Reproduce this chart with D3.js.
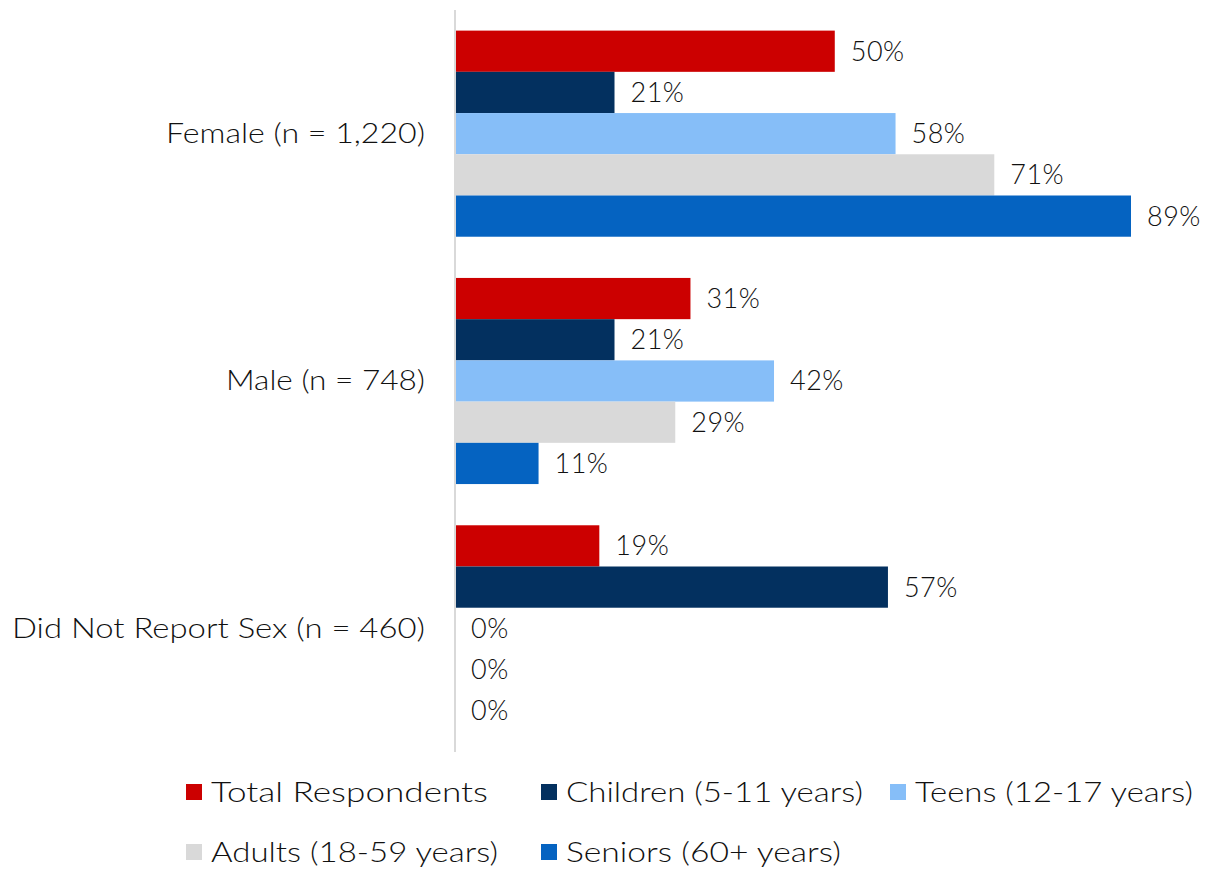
<!DOCTYPE html>
<html>
<head>
<meta charset="utf-8">
<script src="https://cdn.jsdelivr.net/npm/d3@7"></script>
<style>
  html, body { margin: 0; padding: 0; background: #ffffff; }
  text { font-family: "Lato", "Open Sans", sans-serif; fill: #111111; font-weight: 300; }
</style>
</head>
<body>
<svg id="chart" width="1217" height="869"></svg>
<script>
// Respondent groups (rows) and the age series drawn within each row
const categories = ["Female (n = 1,220)", "Male (n = 748)", "Did Not Report Sex (n = 460)"];
const seriesNames = ["Total Respondents", "Children (5-11 years)", "Teens (12-17 years)", "Adults (18-59 years)", "Seniors (60+ years)"];
const seriesColors = ["#CC0000", "#03305F", "#86BEF8", "#D9D9D9", "#0563C1"];

// Percent values per series, in category order
const totalRespondents = [50, 31, 19];
const children = [21, 21, 57];
const teens = [58, 42, 0];
const adults = [71, 29, 0];
const seniors = [89, 11, 0];
const seriesValues = [totalRespondents, children, teens, adults, seniors];

// Pixel widths of the label strings, used to fit the text runs
const categoryLabelWidths = [259, 199, 413];
const legendLabelWidths = [277, 297, 278, 287, 275];

const svg = d3.select("#chart");
const x0 = 455;

const x = d3.scaleLinear().domain([0, 89]).range([x0, 1131]);
const y = d3.scaleBand().domain(categories).range([10, 752]).padding(0);
const bw = y.bandwidth();
const ySeries = d3.scaleBand().domain(seriesNames).range([bw / 12, bw * 11 / 12]).padding(0);

const rows = categories.map((c, ci) => ({
  cat: c,
  bars: seriesNames.map((s, si) => ({ series: s, value: seriesValues[si][ci], color: seriesColors[si] }))
}));

const groups = svg.selectAll("g.row").data(rows).join("g")
  .attr("class", "row")
  .attr("transform", d => `translate(0,${y(d.cat)})`);

groups.selectAll("rect").data(d => d.bars).join("rect")
  .attr("x", x(0))
  .attr("y", d => ySeries(d.series))
  .attr("width", d => x(d.value) - x(0))
  .attr("height", ySeries.bandwidth())
  .attr("fill", d => d.color);

groups.selectAll("text.val").data(d => d.bars).join("text")
  .attr("class", "val")
  .attr("x", d => x(d.value) + 16)
  .attr("y", d => ySeries(d.series) + ySeries.bandwidth() / 2)
  .attr("dy", "0.35em")
  .attr("font-size", 27)
  .attr("letter-spacing", 0.5)
  .text(d => d.value + "%");

// Category axis: vertical rule at zero and right-aligned group names
svg.append("line")
  .attr("x1", x0).attr("x2", x0)
  .attr("y1", 10).attr("y2", 752)
  .attr("stroke", "#D9D9D9").attr("stroke-width", 2);

svg.selectAll("text.cat").data(categories).join("text")
  .attr("class", "cat")
  .attr("x", (d, i) => 425 - categoryLabelWidths[i])
  .attr("y", d => y(d) + bw / 2)
  .attr("dy", "0.35em")
  .attr("font-size", 27)
  .attr("textLength", (d, i) => categoryLabelWidths[i])
  .attr("lengthAdjust", "spacingAndGlyphs")
  .text(d => d);

// Legend, two rows
const legendPos = [[186, 792], [541, 792], [890, 792], [186, 852], [541, 852]];
const legend = svg.selectAll("g.legend").data(seriesNames).join("g")
  .attr("class", "legend")
  .attr("transform", (d, i) => `translate(${legendPos[i][0]},${legendPos[i][1]})`);

legend.append("rect")
  .attr("x", 0).attr("y", -8)
  .attr("width", 16).attr("height", 16)
  .attr("fill", (d, i) => seriesColors[i]);

legend.append("text")
  .attr("x", 25)
  .attr("y", 0)
  .attr("dy", "0.35em")
  .attr("font-size", 28)
  .attr("textLength", (d, i) => legendLabelWidths[i])
  .attr("lengthAdjust", "spacingAndGlyphs")
  .text(d => d);
</script>
</body>
</html>
